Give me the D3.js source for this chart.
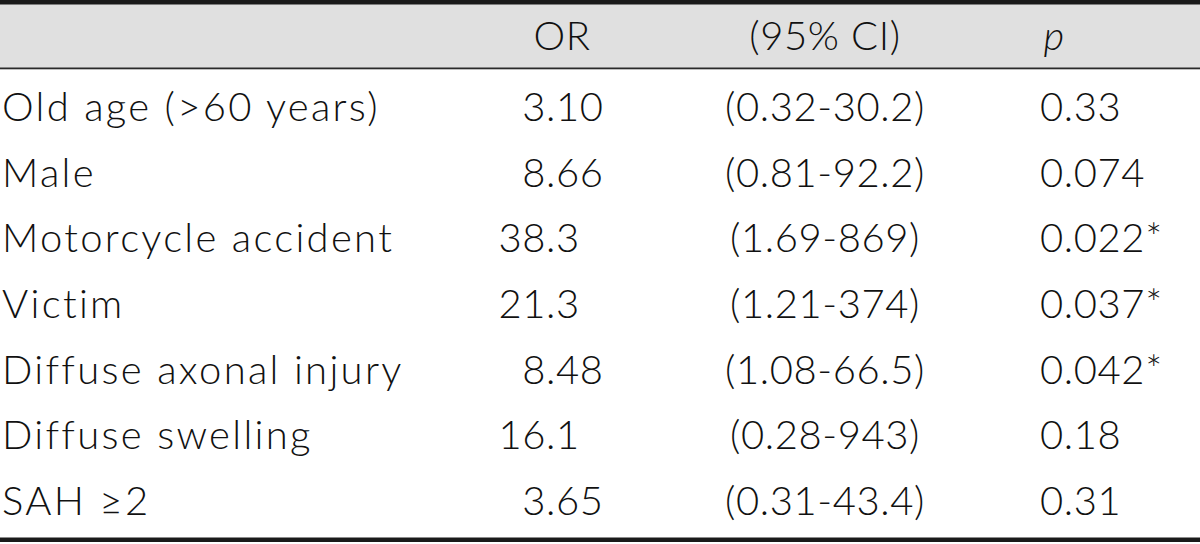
<!DOCTYPE html>
<html>
<head>
<meta charset="utf-8">
<script src="https://cdn.jsdelivr.net/npm/d3@7"></script>
<style>
  html, body { margin: 0; padding: 0; background: #fff; }
  svg { display: block; }
</style>
</head>
<body>
<div id="chart"></div>
<script>
// ---------------- DATA ----------------
let headers = ['OR', '(95% CI)', 'p'];
let variables = ['Old age (>60 years)', 'Male', 'Motorcycle accident', 'Victim',
  'Diffuse axonal injury', 'Diffuse swelling', 'SAH \u22652'];
let or_values = ['3.10', '8.66', '38.3', '21.3', '8.48', '16.1', '3.65'];
let ci_values = ['(0.32-30.2)', '(0.81-92.2)', '(1.69-869)', '(1.21-374)', '(1.08-66.5)', '(0.28-943)', '(0.31-43.4)'];
let p_values = ['0.33', '0.074', '0.022*', '0.037*', '0.042*', '0.18', '0.31'];

// ---------------- SETTINGS ----------------
let img_width = 1200;
let img_height = 544;
let font_size = 40;
let label_spacing = 2.3;
let number_spacing = 0.6;
let text_color = '#111';
let header_fill = '#e0e0e0';
let font_family = 'Lato, "DejaVu Sans", sans-serif';

let svg = d3.select('#chart').append('svg')
  .attr('width', img_width)
  .attr('height', img_height);

// rows laid out with a band scale
let y = d3.scaleBand()
  .domain(variables)
  .range([74, 534])
  .paddingInner(0);

// column anchor positions
let col_x = d3.scaleOrdinal()
  .domain(['label', 'or', 'ci', 'p'])
  .range([2, 546, 825, 1040]);

// ---------------- HEADER ----------------
svg.append('rect')
  .attr('x', 0).attr('y', 4)
  .attr('width', img_width).attr('height', 64)
  .attr('fill', header_fill);

svg.append('rect')
  .attr('x', 0).attr('y', 0)
  .attr('width', img_width).attr('height', 4.5)
  .attr('fill', '#1a1a1a');

svg.append('rect')
  .attr('x', 0).attr('y', 67.5)
  .attr('width', img_width).attr('height', 1.8)
  .attr('fill', '#2a2a2a');

svg.append('rect')
  .attr('x', 0).attr('y', 537.5)
  .attr('width', img_width).attr('height', 4.5)
  .attr('fill', '#1a1a1a');

let header_y = 50;
let g_head = svg.append('g')
  .attr('font-family', font_family)
  .attr('font-size', font_size)
  .attr('font-weight', 300)
  .attr('letter-spacing', number_spacing)
  .attr('fill', text_color);

g_head.append('text')
  .attr('x', 562).attr('y', header_y)
  .attr('text-anchor', 'middle')
  .text(headers[0]);
g_head.append('text')
  .attr('x', col_x('ci')).attr('y', header_y)
  .attr('text-anchor', 'middle')
  .text(headers[1]);
g_head.append('text')
  .attr('x', 1054).attr('y', header_y)
  .attr('text-anchor', 'middle')
  .attr('font-style', 'italic')
  .text(headers[2]);

// ---------------- BODY ----------------
let rows = variables.map((v, i) => ({ label: v, or: or_values[i], ci: ci_values[i], p: p_values[i] }));
let baseline = (d) => y(d.label) + y.bandwidth() / 2 + 14;

let g_rows = svg.append('g')
  .attr('font-family', font_family)
  .attr('font-size', font_size)
  .attr('font-weight', 300)
  .attr('letter-spacing', number_spacing)
  .attr('fill', text_color)
  .selectAll('g')
  .data(rows)
  .enter()
  .append('g');

g_rows.append('text')
  .attr('x', col_x('label'))
  .attr('y', baseline)
  .attr('letter-spacing', label_spacing)
  .text(d => d.label);

// OR column: aligned on the decimal point
g_rows.append('text')
  .attr('x', col_x('or'))
  .attr('y', baseline)
  .attr('text-anchor', 'end')
  .text(d => d.or.split('.')[0]);
g_rows.append('text')
  .attr('x', col_x('or'))
  .attr('y', baseline)
  .text(d => '.' + d.or.split('.')[1]);

g_rows.append('text')
  .attr('x', col_x('ci'))
  .attr('y', baseline)
  .attr('text-anchor', 'middle')
  .text(d => d.ci);

g_rows.append('text')
  .attr('x', col_x('p'))
  .attr('y', baseline)
  .text(d => d.p);
</script>
</body>
</html>
